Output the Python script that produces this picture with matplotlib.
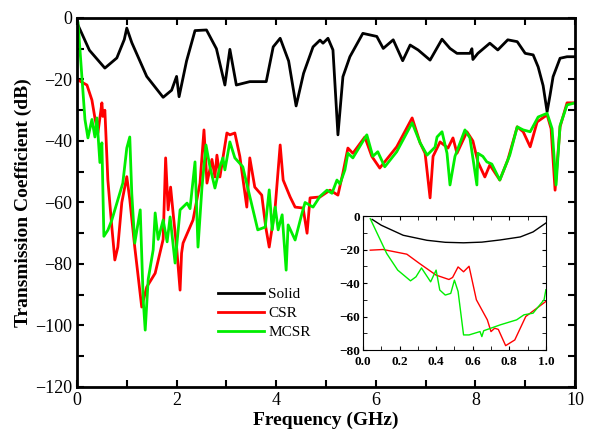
import matplotlib.pyplot as plt
from matplotlib.ticker import MultipleLocator

plt.rcParams['font.family'] = ['Liberation Serif', 'DejaVu Serif']

# Main plot: transmission coefficient vs frequency
solid_f = [0.0, 0.02, 0.25, 0.56, 0.8, 0.95, 1.0, 1.1, 1.4, 1.73, 1.9, 2.0, 2.05, 2.2, 2.37, 2.6,
           2.8, 2.97, 3.07, 3.2, 3.47, 3.8, 3.94, 4.08, 4.25, 4.4, 4.55, 4.74, 4.88, 4.94, 5.04,
           5.14, 5.24, 5.34, 5.48, 5.74, 6.02, 6.15, 6.35, 6.54, 6.69, 6.85, 7.09, 7.33, 7.49,
           7.63, 7.89, 7.93, 7.95, 8.05, 8.29, 8.45, 8.65, 8.84, 9.0, 9.16, 9.26, 9.36, 9.44,
           9.5, 9.56, 9.7, 9.84, 10.0]
solid_db = [-1, -2.3, -10.5, -16.3, -13, -7, -3.3, -8, -19, -25.8, -23.5, -19, -25.6, -14, -4.1, -3.9,
            -10, -21.8, -10.2, -21.8, -20.7, -20.7, -9.4, -6.6, -14, -28.6, -18, -9.4, -7.2, -8.2,
            -6.6, -10.4, -38, -19.1, -12.6, -5, -6, -9.9, -7.1, -13.9, -8.8, -10.4, -13.7, -6.9,
            -9.9, -11.5, -11.5, -10, -13.5, -11.5, -8.2, -10.4, -7.1, -7.7, -11.5, -12, -15.9,
            -22, -30.5, -25, -19.1, -13.1, -12.6, -12.6]

csr_f = [0.0, 0.2, 0.3, 0.36, 0.42, 0.5, 0.52, 0.56, 0.62, 0.7, 0.76, 0.82, 0.9, 1.0, 1.06, 1.16,
         1.3, 1.4, 1.57, 1.73, 1.78, 1.83, 1.88, 1.93, 2.0, 2.07, 2.1, 2.13, 2.33, 2.47, 2.55,
         2.61, 2.71, 2.77, 2.81, 2.87, 3.01, 3.07, 3.17, 3.27, 3.41, 3.47, 3.57, 3.71, 3.79,
         3.86, 3.98, 4.08, 4.14, 4.28, 4.38, 4.54, 4.62, 4.68, 4.88, 5.08, 5.24, 5.34, 5.44,
         5.54, 5.78, 5.92, 6.08, 6.42, 6.73, 6.89, 6.99, 7.09, 7.15, 7.29, 7.45, 7.55, 7.63,
         7.83, 7.95, 8.05, 8.19, 8.29, 8.49, 8.65, 8.84, 8.96, 9.1, 9.24, 9.44, 9.52, 9.6,
         9.7, 9.84, 10.0]
csr_db = [-20, -21.8, -26.7, -32.5, -37.4, -27.6, -32, -30, -52.7, -68, -78.7, -74.5, -60, -51.6,
          -59, -74.5, -94, -87.5, -83, -72, -45.5, -62.4, -55, -63.4, -74.5, -88.5, -76.5, -73.2,
          -65.7, -53.7, -36.4, -53.7, -46, -51.7, -44.6, -51.7, -37.4, -38, -37.4, -45, -61.5,
          -45.5, -55, -57.6, -68, -74.5, -61.5, -41.3, -52.7, -58.2, -61.5, -61.8, -70, -58.5,
          -58.2, -56, -57.6, -50.4, -42.3, -44, -38.7, -45, -48.8, -41.9, -32.5, -40.6, -44,
          -58.5, -45, -40.3, -42.3, -39, -44, -37, -40, -46.8, -51.7, -47.8, -52.7, -46.2,
          -35.4, -37, -41.9, -33.8, -31.5, -36, -56, -35.4, -27.6, -27.6]

mcsr_f = [0.0, 0.02, 0.16, 0.22, 0.3, 0.36, 0.4, 0.46, 0.5, 0.54, 0.62, 0.7, 0.92, 1.0, 1.06, 1.1,
          1.16, 1.27, 1.33, 1.37, 1.43, 1.53, 1.57, 1.63, 1.73, 1.81, 1.87, 1.97, 2.07, 2.21,
          2.27, 2.37, 2.43, 2.51, 2.59, 2.67, 2.77, 2.87, 2.93, 2.97, 3.07, 3.17, 3.33, 3.43,
          3.63, 3.78, 3.86, 3.92, 3.98, 4.04, 4.12, 4.2, 4.24, 4.38, 4.52, 4.58, 4.74, 4.88,
          5.02, 5.12, 5.22, 5.28, 5.38, 5.44, 5.54, 5.82, 5.94, 6.04, 6.18, 6.42, 6.73, 6.89,
          7.03, 7.19, 7.23, 7.33, 7.43, 7.49, 7.59, 7.79, 7.89, 8.03, 8.05, 8.15, 8.23, 8.33,
          8.49, 8.69, 8.84, 8.96, 9.1, 9.26, 9.44, 9.54, 9.62, 9.7, 9.84, 10.0]
mcsr_db = [-1, -1.3, -33, -39, -33, -38.7, -32.5, -47, -40.6, -71, -69, -65.7, -53.7, -42.3, -38.7,
           -57, -73.2, -62.4, -91.7, -101.5, -85, -75.4, -63.4, -72, -65.7, -72.8, -64.7, -79.7,
           -62.4, -60.2, -62, -46.8, -74.5, -55, -41.3, -48.4, -55.3, -48.4, -45.5, -49.4, -40.3,
           -45.5, -48.4, -55.3, -68.9, -68, -55.9, -68.9, -61.5, -68.9, -64, -82, -67.3, -72.2,
           -63.4, -60, -61.5, -58, -56, -57, -52.7, -54, -49.4, -44, -45.5, -38, -45, -43.5,
           -48.4, -43.5, -34.1, -40.6, -44.6, -42, -38.7, -37, -44, -54.3, -45, -36.4, -39,
           -54.3, -44, -45, -46.8, -47.5, -52.7, -44.6, -35.4, -36.4, -37, -32.2, -31, -36,
           -54.3, -35, -28.3, -27.6]

# Inset: 0-1 GHz zoom
in_solid_f = [0.05, 0.1, 0.22, 0.35, 0.45, 0.55, 0.65, 0.75, 0.86, 0.93, 1.0]
in_solid_db = [-2, -5.5, -11.5, -14.5, -15.7, -16, -15.6, -14.3, -12.5, -9.5, -4.2]

in_csr_f = [0.04, 0.11, 0.24, 0.31, 0.4, 0.47, 0.49, 0.52, 0.55, 0.58, 0.62, 0.68, 0.70, 0.72,
            0.74, 0.78, 0.83, 0.89, 1.0]
in_csr_db = [-20.4, -20, -22.8, -28.4, -35.3, -37.9, -36.7, -30.4, -33.3, -30, -50, -62, -69, -67,
             -67.7, -77.4, -74, -60, -51]

in_mcsr_f = [0.04, 0.13, 0.19, 0.26, 0.29, 0.32, 0.37, 0.40, 0.42, 0.45, 0.48, 0.50, 0.52, 0.55,
             0.58, 0.64, 0.65, 0.66, 0.75, 0.84, 0.88, 0.93, 0.99, 1.0]
in_mcsr_db = [-1.6, -22.4, -32.3, -38.7, -36.3, -31, -39.3, -32.3, -44.2, -47.2, -46.2, -38.3, -45,
              -71, -71, -69, -72, -68.5, -65, -62, -59, -58, -50, -44]

fig = plt.figure(figsize=(5.94, 4.44), dpi=100)
ax = fig.add_axes([0.1296, 0.1284, 0.8384, 0.8311])
ax.plot(solid_f, solid_db, color='black', lw=2, label='Solid')
ax.plot(csr_f, csr_db, color='#ff0000', lw=2, label='CSR')
ax.plot(mcsr_f, mcsr_db, color='#00ee00', lw=2, label='MCSR')
ax.set_xlim(0, 10)
ax.set_ylim(-120, 0)
ax.xaxis.set_major_locator(MultipleLocator(2))
ax.xaxis.set_minor_locator(MultipleLocator(1))
ax.yaxis.set_major_locator(MultipleLocator(20))
ax.yaxis.set_minor_locator(MultipleLocator(10))
ax.tick_params(which='both', direction='in', top=True, right=True, width=1.5, length=5, labelsize=13)
for s in ax.spines.values():
    s.set_linewidth(2)
ax.set_xlabel('Frequency (GHz)', fontsize=14, fontweight='bold', labelpad=2)
ax.set_ylabel('Transmission Coefficient (dB)', fontsize=14, fontweight='bold', labelpad=2)
ax.legend(loc='center left', bbox_to_anchor=(0.255, 0.2), frameon=False, fontsize=11,
          handlelength=3, labelspacing=0.35, handletextpad=0.3)

ins = fig.add_axes([0.611, 0.2117, 0.308, 0.3018])
ins.plot(in_solid_f, in_solid_db, color='black', lw=1)
ins.plot(in_csr_f, in_csr_db, color='#ff0000', lw=1)
ins.plot(in_mcsr_f, in_mcsr_db, color='#00ee00', lw=1)
ins.set_xlim(0, 1)
ins.set_ylim(-80, 0)
ins.xaxis.set_major_locator(MultipleLocator(0.2))
ins.xaxis.set_minor_locator(MultipleLocator(0.1))
ins.yaxis.set_major_locator(MultipleLocator(20))
ins.yaxis.set_minor_locator(MultipleLocator(10))
ins.tick_params(which='both', direction='in', top=True, right=True, labelsize=9.5, length=3)
ins.tick_params(axis='x', pad=4)
ins.tick_params(axis='y', pad=2)
for lab in ins.get_xticklabels() + ins.get_yticklabels():
    lab.set_fontweight('bold')

fig.savefig('out.png', dpi=100)
